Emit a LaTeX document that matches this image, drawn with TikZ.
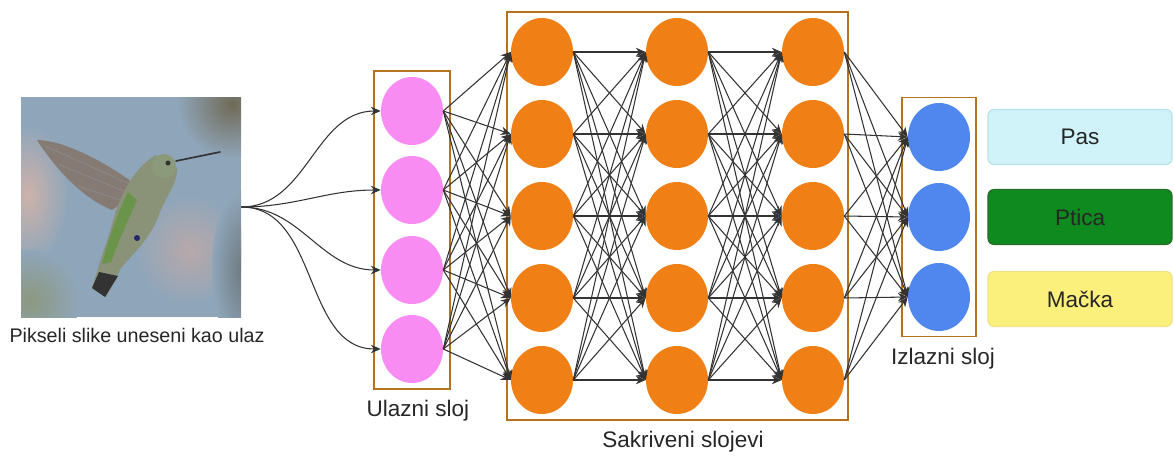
\documentclass[tikz,border=0pt]{standalone}
\usepackage{fontspec}
\setmainfont{Liberation Sans}
\usepackage{xcolor}
\usetikzlibrary{arrows.meta,shapes.geometric,positioning,fit}
\definecolor{inputcolor}{HTML}{F98CF3}
\definecolor{hiddencolor}{HTML}{F08016}
\definecolor{outputcolor}{HTML}{4F87EE}
\definecolor{framecolor}{HTML}{B6731E}
\definecolor{linkcolor}{HTML}{333333}
\definecolor{pasfill}{HTML}{CFF3F8}
\definecolor{pasdraw}{HTML}{B6E2EA}
\definecolor{pticafill}{HTML}{0F8A1F}
\definecolor{pticadraw}{HTML}{2D6B2D}
\definecolor{mackafill}{HTML}{FCF07C}
\definecolor{mackadraw}{HTML}{EEE28A}
\definecolor{photobg}{HTML}{8FA6BA}
\definecolor{wingcolor}{HTML}{857A74}
\definecolor{birdbody}{HTML}{8A9278}
\definecolor{birdgreen}{HTML}{6A944A}
\definecolor{birdhead}{HTML}{8C9A7C}
\tikzset{
  neuron/.style={ellipse, minimum width=1.55cm, minimum height=1.7cm, inner sep=0pt},
  layerbox/.style={draw=framecolor, line width=1.4pt},
  link/.style={draw=linkcolor, line width=0.75pt, -{Stealth[length=7pt,width=6pt]}},
  classbox/.style={draw, rounded corners=0.15cm, line width=0.8pt, minimum width=4.6cm, minimum height=1.375cm, font=\fontsize{16}{19}\selectfont, text=black!85},
  layername/.style={font=\fontsize{16}{19}\selectfont, text=black!85},
}

\begin{document}
\begin{tikzpicture}[x=0.025cm, y=-0.025cm]%
\useasboundingbox (0,0) rectangle (1174,455);%
% photo of the bird
\node[rectangle, minimum width=5.5cm, minimum height=5.5cm, inner sep=0pt, fill=photobg] (photo) at (131,207) {};%
\begin{scope}
\clip (21,97) rectangle (241,317);
\shade[inner color={rgb,255:red,112;green,106;blue,86}, outer color=photobg] (232,104) circle (55);
\shade[inner color={rgb,255:red,205;green,178;blue,170}, outer color=photobg] (28,195) ellipse (40 and 70);
\shade[inner color={rgb,255:red,184;green,168;blue,170}, outer color=photobg] (190,250) circle (55);
\shade[inner color={rgb,255:red,140;green,152;blue,128}, outer color=photobg] (30,300) circle (50);
\shade[inner color={rgb,255:red,110;green,122;blue,128}, outer color=photobg] (242,270) ellipse (30 and 80);
\end{scope}
\fill[wingcolor] (132,182) .. controls (102,160) and (62,140) .. (37,140) .. controls (55,168) and (82,198) .. (112,210) .. controls (124,202) and (132,192) .. (132,182) -- cycle;%
\draw[black!45, line width=0.5pt] (130,184) -- (45,146) (126,192) -- (60,165) (120,200) -- (78,186);%
\fill[birdbody] (156,155) .. controls (138,165) and (120,190) .. (112,225) .. controls (106,245) and (102,255) .. (99,265) -- (92,288) -- (106,297) -- (121,268) .. controls (135,252) and (152,236) .. (160,212) .. controls (167,195) and (178,182) .. (177,168) -- cycle;%
\fill[birdgreen] (128,192) .. controls (117,215) and (108,240) .. (102,264) -- (111,262) .. controls (119,240) and (129,218) .. (137,200) -- cycle;%
\fill[black!80] (99,272) -- (92,288) -- (105,297) -- (118,276) -- cycle;%
\fill[birdhead] (164,166) circle (12);%
\fill[black!80] (168,163) circle (2.5);%
\draw[black!80, line width=1.2pt, line cap=round] (176,161) -- (220,152);%
\fill[black!60!blue!70!gray] (137,238) circle (3);%
\node[font=\fontsize{14}{17}\selectfont, text=black!85] (caption) at (137,335) {Pikseli slike uneseni kao ulaz};%
% input layer
\node[neuron, fill=inputcolor] (in1) at (412,111) {};%
\node[neuron, fill=inputcolor] (in2) at (412,190) {};%
\node[neuron, fill=inputcolor] (in3) at (412,270) {};%
\node[neuron, fill=inputcolor] (in4) at (412,349) {};%
% hidden layers
\node[neuron, fill=hiddencolor] (h1-1) at (542,52) {};%
\node[neuron, fill=hiddencolor] (h1-2) at (542,134) {};%
\node[neuron, fill=hiddencolor] (h1-3) at (542,216) {};%
\node[neuron, fill=hiddencolor] (h1-4) at (542,298) {};%
\node[neuron, fill=hiddencolor] (h1-5) at (542,380) {};%
\node[neuron, fill=hiddencolor] (h2-1) at (677,52) {};%
\node[neuron, fill=hiddencolor] (h2-2) at (677,134) {};%
\node[neuron, fill=hiddencolor] (h2-3) at (677,216) {};%
\node[neuron, fill=hiddencolor] (h2-4) at (677,298) {};%
\node[neuron, fill=hiddencolor] (h2-5) at (677,380) {};%
\node[neuron, fill=hiddencolor] (h3-1) at (813,52) {};%
\node[neuron, fill=hiddencolor] (h3-2) at (813,134) {};%
\node[neuron, fill=hiddencolor] (h3-3) at (813,216) {};%
\node[neuron, fill=hiddencolor] (h3-4) at (813,298) {};%
\node[neuron, fill=hiddencolor] (h3-5) at (813,380) {};%
% output layer
\node[neuron, fill=outputcolor] (out1) at (939,137) {};%
\node[neuron, fill=outputcolor] (out2) at (939,217) {};%
\node[neuron, fill=outputcolor] (out3) at (939,297) {};%
% frames and their names
\node[layerbox, inner xsep=0.16cm, inner ysep=0.15cm, fit=(in1)(in4)] (inbox) {};%
\node[layerbox, inner xsep=0.09cm, inner ysep=0.15cm, fit=(h1-1)(h3-5)] (hidbox) {};%
\node[layerbox, inner xsep=0.15cm, inner ysep=0.13cm, fit=(out1)(out3)] (outbox) {};%
\node[layername] (inname) at (418,411) {Ulazni sloj};%
\node[layername] (hidname) at (683,442) {Sakriveni slojevi};%
\node[layername] (outname) at (943,359) {Izlazni sloj};%
% classes
\node[classbox, fill=pasfill, draw=pasdraw] (pas) at (1080,137) {Pas};%
\node[classbox, fill=pticafill, draw=pticadraw] (ptica) at (1080,217) {Ptica};%
\node[classbox, fill=mackafill, draw=mackadraw] (macka) at (1080,299) {Mačka};%
% connections
\foreach \i in {1,...,4}
  \draw[link] (photo.east) to[out=0, in=180] (in\i.west);
\foreach \i in {1,...,4}
  \foreach \j in {1,...,5}
    \draw[link] (in\i.east) -- (h1-\j.west);
\foreach \k/\l in {1/2,2/3}
  \foreach \i in {1,...,5}
    \foreach \j in {1,...,5}
      \draw[link] (h\k-\i.east) -- (h\l-\j.west);
\foreach \i in {1,...,5}
  \foreach \j in {1,2,3}
    \draw[link] (h3-\i.east) -- (out\j.west);
\end{tikzpicture}
\end{document}
